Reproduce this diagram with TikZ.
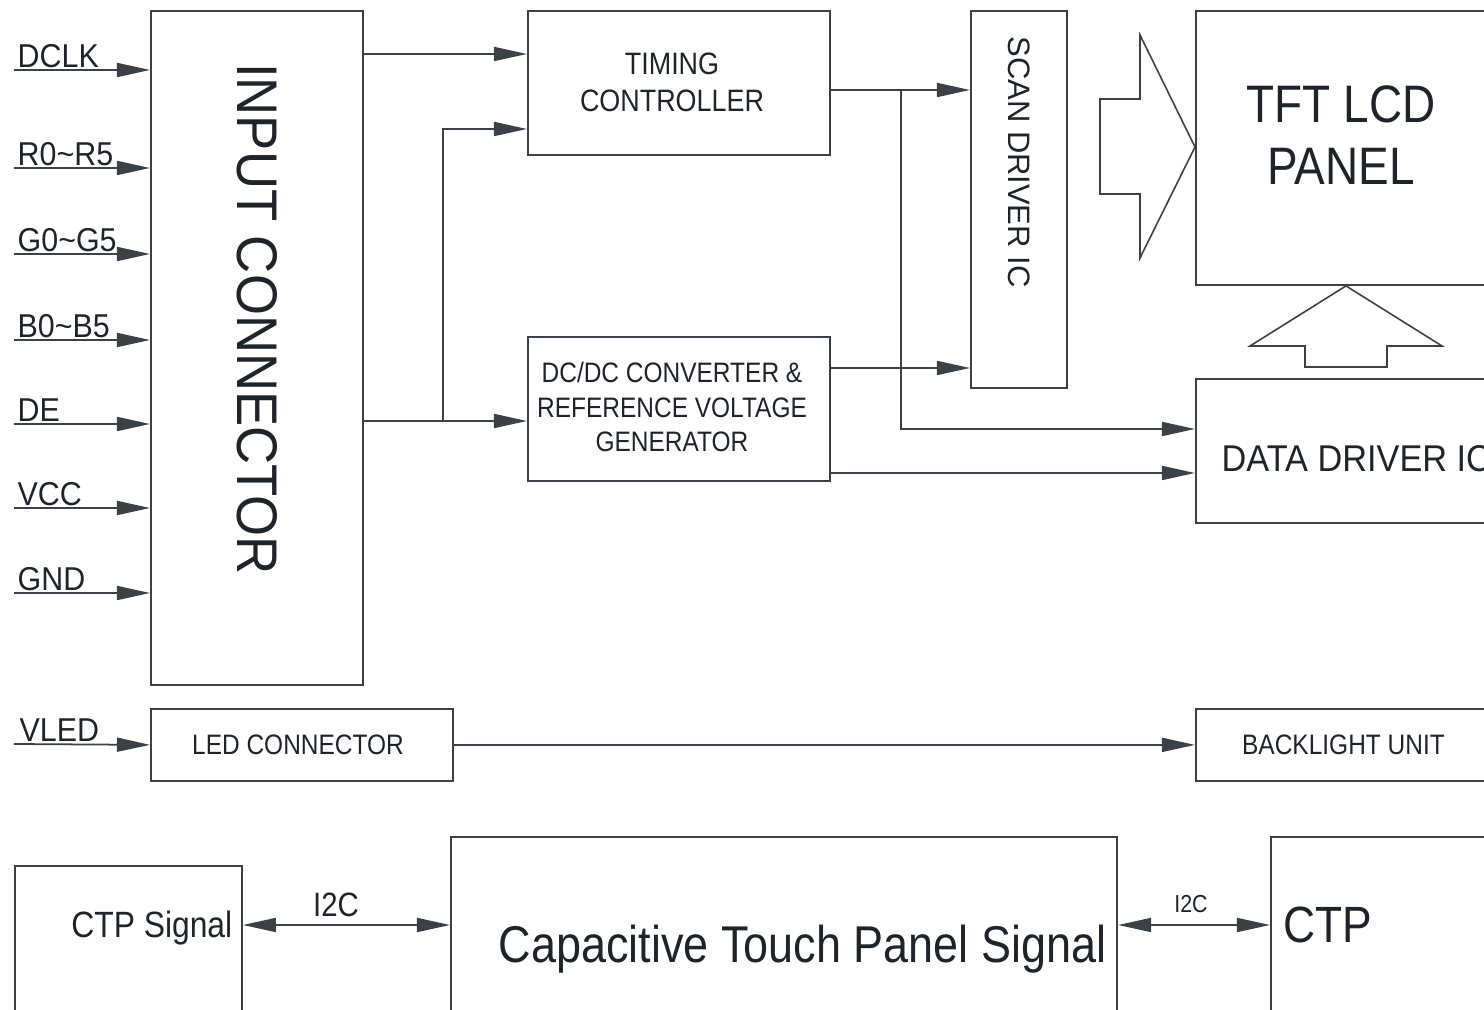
\documentclass[tikz,border=0pt]{standalone}
\usepackage{fontspec}
\setmainfont{Liberation Sans}[FakeStretch=0.87]
\newfontfamily\widefont{Liberation Sans}[FakeStretch=0.92]
\newfontfamily\plainfont{Liberation Sans}
\usepackage{tikz}
\usetikzlibrary{arrows.meta,positioning,calc}
\usepackage{xcolor}
\definecolor{linec}{HTML}{3C4148}
\definecolor{textc}{HTML}{1F242B}

\begin{document}
\begin{tikzpicture}[x=0.01cm,y=-0.01cm,
    blk/.style={draw=linec,line width=0.5pt,inner sep=0pt,text=textc,align=center},
    lbl/.style={inner sep=0pt,text=textc},
    sig/.style={draw=linec,line width=0.5pt,-{Triangle[length=0.33cm,width=0.14cm]}},
    bisig/.style={draw=linec,line width=0.5pt,{Triangle[length=0.33cm,width=0.14cm]}-{Triangle[length=0.33cm,width=0.14cm]}},
    hollow/.style={draw=linec,line width=0.45pt,line join=miter}]
\useasboundingbox (0,0) rectangle (1484,1010);
\clip (0,0) rectangle (1484,1010);

\node[blk,anchor=north west,minimum width=2.12cm,minimum height=6.74cm] (inconn) at (150,10) {};
\node[lbl,rotate=-90,font=\widefont\fontsize{16.3}{18}\selectfont] (inconntxt) at (257,319) {INPUT CONNECTOR};
\node[blk,anchor=north west,minimum width=3.02cm,minimum height=1.44cm] (tc) at (527,10) {};
\node[lbl,align=center,font=\fontsize{8.8}{10.5}\selectfont] (tctxt) at (672,82) {TIMING\\CONTROLLER};
\node[blk,anchor=north west,minimum width=3.02cm,minimum height=1.44cm] (dcdc) at (527,336) {};
\node[lbl,align=center,font=\fontsize{8}{9.7}\selectfont] (dcdctxt) at (672,407) {DC/DC CONVERTER \&\\REFERENCE VOLTAGE\\GENERATOR};
\node[blk,anchor=north west,minimum width=0.96cm,minimum height=3.77cm] (scan) at (970,10) {};
\node[lbl,rotate=-90,font=\plainfont\fontsize{8.8}{10}\selectfont] (scantxt) at (1019,162) {SCAN DRIVER IC};
\node[blk,anchor=north west,minimum width=2.95cm,minimum height=2.74cm] (tft) at (1195,10) {};
\node[lbl,align=center,font=\fontsize{15}{17.6}\selectfont] (tfttxt) at (1341,135) {TFT LCD\\PANEL};
\node[blk,anchor=north west,minimum width=2.95cm,minimum height=1.44cm] (ddic) at (1195,378) {};
\node[lbl,anchor=west,font=\widefont\fontsize{10.6}{12}\selectfont] (ddictxt) at (1221,459) {DATA DRIVER IC};
\node[blk,anchor=north west,minimum width=3.02cm,minimum height=0.72cm] (led) at (150,708) {};
\node[lbl,font=\fontsize{8}{9.7}\selectfont] (ledtxt) at (298,745) {LED CONNECTOR};
\node[blk,anchor=north west,minimum width=2.95cm,minimum height=0.72cm,
    font=\fontsize{8}{9.7}\selectfont] (blu) at (1195,708) {BACKLIGHT UNIT};
\node[blk,anchor=north west,minimum width=2.27cm,minimum height=1.6cm] (ctps) at (14,865) {};
\node[lbl,anchor=base east,font=\fontsize{10.4}{12}\selectfont] (ctpstxt) at (233,938) {CTP Signal};
\node[blk,anchor=north west,minimum width=6.66cm,minimum height=1.9cm] (cap) at (450,836) {};
\node[lbl,anchor=base east,font=\fontsize{14.7}{16}\selectfont] (captxt) at (1107,963) {Capacitive Touch Panel Signal};
\node[blk,anchor=north west,minimum width=2.5cm,minimum height=1.9cm] (ctp) at (1270,836) {};
\node[lbl,anchor=base west,font=\fontsize{14.5}{16}\selectfont] (ctptxt) at (1283,943) {CTP};

\foreach \i/\s/\y in {1/DCLK/70,2/R0\textasciitilde R5/168,3/G0\textasciitilde G5/254,4/B0\textasciitilde B5/340,
    5/DE/424,6/VCC/508,7/GND/593}
{
    \coordinate (in\i) at (14,\y);
    \draw[sig] (in\i) -- (inconn.west |- in\i);
    \node[lbl,anchor=base west,font=\widefont\fontsize{9.4}{11}\selectfont] (inlbl\i) at (17,\y-2) {\s};
}
\coordinate (vled) at (14,744);
\draw[sig] (vled) -- (led.west);
\node[lbl,anchor=base west,font=\widefont\fontsize{9.4}{11}\selectfont] (vledlbl) at (19,742) {VLED};

\draw[sig] (inconn.east |- 0,54) -- (tc.west |- 0,54);
\draw[sig] (inconn.east |- 0,421) -- (dcdc.west |- 0,421);
\coordinate (split) at (443,421);
\draw[sig] (split) |- (tc.west |- 0,129);
\draw[sig] (tc.east |- 0,90) -- (scan.west |- 0,90);
\coordinate (tap) at (901,90);
\draw[sig] (tap) |- (ddic.west |- 0,429);
\draw[sig] (dcdc.east |- 0,368) -- (scan.west |- 0,368);
\draw[sig] (dcdc.east |- 0,473) -- (ddic.west |- 0,473);
\draw[sig] (led.east) -- (blu.west);

\draw[bisig] (ctps.east |- 0,925) -- (cap.west |- 0,925);
\node[lbl,anchor=base,font=\fontsize{9.6}{11}\selectfont] (i2cl) at (336,917) {I2C};
\draw[bisig] (cap.east |- 0,925) -- (ctp.west |- 0,925);
\node[lbl,anchor=base,font=\fontsize{7}{8}\selectfont] (i2cr) at (1191,913) {I2C};

\draw[hollow] (1100,99) -- (1140,99) -- (1140,35) -- (tft.west |- 0,147) -- (1140,258) -- (1140,194) -- (1100,194) -- cycle;
\draw[hollow] (1305,367) -- (1305,346) -- (1250,346) -- (tft.south -| 1346,0) -- (1442,346) -- (1387,346) -- (1387,367) -- cycle;
\end{tikzpicture}
\end{document}
